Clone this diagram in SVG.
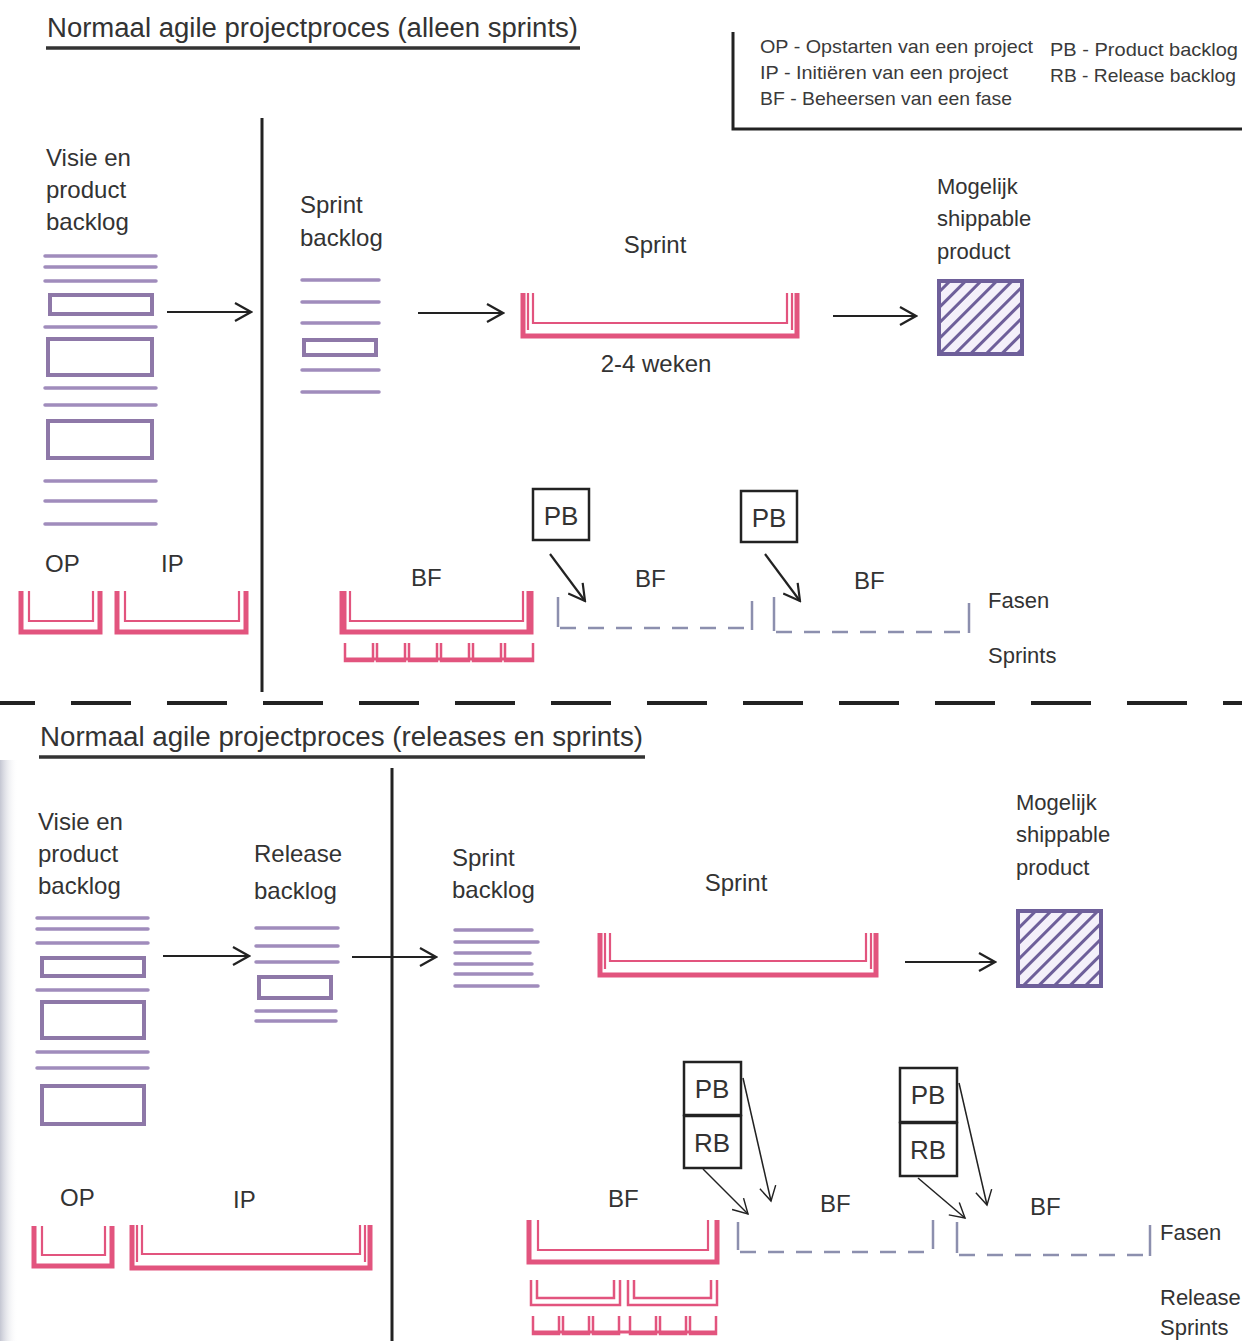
<svg xmlns="http://www.w3.org/2000/svg" width="1242" height="1341" viewBox="0 0 1242 1341">
<defs>
<style>
text{font-family:"Liberation Sans","DejaVu Sans",sans-serif;fill:#333;}
.t24{font-size:24px;}
.t22{font-size:22px;}
.leg{font-size:19px;fill:#3a3a3a;}
.box-t{font-size:26px;text-anchor:middle;}
.mid{text-anchor:middle;}
.pl{stroke:#a08cbc;stroke-width:3.5;fill:none;stroke-linecap:round;}
.pr{stroke:#8e78a8;stroke-width:4;fill:none;}
.pk{stroke:#e2547e;stroke-width:5;fill:none;stroke-linejoin:miter;}
.pki{stroke:#e2547e;stroke-width:2.2;fill:none;}
.pks{stroke:#e2547e;stroke-width:2.5;fill:none;}
.dash{stroke:#8c8fae;stroke-width:2.5;fill:none;stroke-dasharray:16 12;}
.dv{stroke:#8c8fae;stroke-width:2.5;fill:none;}
.arr{stroke:#222;stroke-width:2.2;fill:none;marker-end:url(#ah);}
.arrt{stroke:#222;stroke-width:1.5;fill:none;marker-end:url(#ah2);}
.bx{fill:#fff;stroke:#222;stroke-width:2.5;}
.div{stroke:#222;stroke-width:3;fill:none;}
.prod{fill:url(#hatch);stroke:#6e5f9a;stroke-width:4;}
</style>
<marker id="ah" viewBox="0 0 20 20" refX="18" refY="10" markerWidth="20" markerHeight="20" markerUnits="userSpaceOnUse" orient="auto">
<path d="M2,1 L18,10 L2,19" fill="none" stroke="#222" stroke-width="2.2"/>
</marker>
<marker id="ah2" viewBox="0 0 20 20" refX="18" refY="10" markerWidth="18" markerHeight="18" markerUnits="userSpaceOnUse" orient="auto">
<path d="M2,1 L18,10 L2,19" fill="none" stroke="#222" stroke-width="1.6"/>
</marker>
<pattern id="hatch" patternUnits="userSpaceOnUse" width="11" height="11" patternTransform="rotate(45)">
<rect width="11" height="11" fill="#f4f0fa"/>
<rect x="0" y="0" width="3" height="11" fill="#6e5f9a"/>
</pattern>
<linearGradient id="edge" x1="0" y1="0" x2="1" y2="0">
<stop offset="0" stop-color="#c4c6d2"/>
<stop offset="1" stop-color="#ffffff" stop-opacity="0"/>
</linearGradient>
</defs>
<rect width="1242" height="1341" fill="#fff"/>
<rect x="0" y="760" width="18" height="581" fill="url(#edge)"/>

<!-- ===== TOP SECTION ===== -->
<g id="title1">
<text x="47" y="37" font-size="27" textLength="531" lengthAdjust="spacingAndGlyphs">Normaal agile projectproces (alleen sprints)</text>
<line x1="46" y1="48" x2="580" y2="48" stroke="#333" stroke-width="3.5"/>
</g>

<g id="legend">
<path d="M733,32 V129 H1242" fill="none" stroke="#222" stroke-width="3"/>
<text class="leg" x="760" y="53" textLength="273" lengthAdjust="spacingAndGlyphs">OP - Opstarten van een project</text>
<text class="leg" x="760" y="79" textLength="248" lengthAdjust="spacingAndGlyphs">IP - Initiëren van een project</text>
<text class="leg" x="760" y="105" textLength="252" lengthAdjust="spacingAndGlyphs">BF - Beheersen van een fase</text>
<text class="leg" x="1050" y="56" textLength="188" lengthAdjust="spacingAndGlyphs">PB - Product backlog</text>
<text class="leg" x="1050" y="82" textLength="186" lengthAdjust="spacingAndGlyphs">RB - Release backlog</text>
</g>

<line id="divider1" class="div" x1="262" y1="118" x2="262" y2="692"/>

<g id="product-backlog-1">
<text class="t24" x="46" y="166">Visie en</text>
<text class="t24" x="46" y="198">product</text>
<text class="t24" x="46" y="230">backlog</text>
<line class="pl" x1="45" y1="256" x2="156" y2="256"/>
<line class="pl" x1="45" y1="267" x2="156" y2="267"/>
<line class="pl" x1="45" y1="281" x2="156" y2="281"/>
<rect class="pr" x="50" y="295" width="102" height="19"/>
<line class="pl" x1="45" y1="327" x2="156" y2="327"/>
<rect class="pr" x="48" y="339" width="104" height="36"/>
<line class="pl" x1="45" y1="388" x2="156" y2="388"/>
<line class="pl" x1="45" y1="405" x2="156" y2="405"/>
<rect class="pr" x="48" y="421" width="104" height="37"/>
<line class="pl" x1="45" y1="481" x2="156" y2="481"/>
<line class="pl" x1="45" y1="501" x2="156" y2="501"/>
<line class="pl" x1="45" y1="524" x2="156" y2="524"/>
</g>

<g id="sprint-backlog-1">
<text class="t24" x="300" y="213">Sprint</text>
<text class="t24" x="300" y="246">backlog</text>
<line class="pl" x1="302" y1="280" x2="379" y2="280"/>
<line class="pl" x1="302" y1="302" x2="379" y2="302"/>
<line class="pl" x1="302" y1="323" x2="379" y2="323"/>
<rect class="pr" x="304" y="340" width="72" height="15" stroke-width="3"/>
<line class="pl" x1="302" y1="370" x2="379" y2="370"/>
<line class="pl" x1="302" y1="392" x2="379" y2="392"/>
</g>

<g id="sprint-1">
<text class="t24 mid" x="655" y="253">Sprint</text>
<path class="pk" d="M523,293 V336 H797 V293" stroke-width="6"/>
<path class="pki" d="M533,293 V323 H787 V293" stroke-width="3"/>
<path class="pki" d="M528,293 V330 M792,293 V330"/>
<text class="t24 mid" x="656" y="372">2-4 weken</text>
</g>

<g id="product-1">
<text class="t22" x="937" y="194">Mogelijk</text>
<text class="t22" x="937" y="226">shippable</text>
<text class="t22" x="937" y="259">product</text>
<rect class="prod" x="939" y="281" width="83" height="73"/>
</g>

<g id="op-ip-1">
<text class="t24" x="45" y="572">OP</text>
<text class="t24" x="161" y="572">IP</text>
<path class="pk" d="M21,591 V632 H100 V591"/>
<path class="pki" d="M29,591 V621 H93 V591"/>
<path class="pk" d="M117,591 V632 H246 V591"/>
<path class="pki" d="M125,591 V621 H239 V591"/>
</g>

<g id="bf-1">
<text class="t24" x="411" y="586">BF</text>
<path class="pk" d="M342,591 V632 H531 V591"/>
<path class="pki" d="M350,591 V621 H523 V591"/>
<path class="pk" d="M344,591 V630 M529,591 V630" stroke-width="3"/>
<path class="pks" d="M345,643 V661 H373 V643"/>
<path class="pks" d="M377,643 V661 H405 V643"/>
<path class="pks" d="M409,643 V661 H437 V643"/>
<path class="pks" d="M441,643 V661 H469 V643"/>
<path class="pks" d="M473,643 V661 H501 V643"/>
<path class="pks" d="M505,643 V661 H533 V643"/>
<line x1="345" y1="659" x2="533" y2="659" stroke="#e2547e" stroke-width="3"/>
</g>

<g id="pb-1">
<rect class="bx" x="533" y="489" width="56" height="51"/>
<text class="box-t" x="561" y="525">PB</text>
</g>
<g id="pb-2">
<rect class="bx" x="741" y="491" width="56" height="51"/>
<text class="box-t" x="769" y="527">PB</text>
</g>

<g id="bf-2">
<text class="t24" x="635" y="587">BF</text>
<path class="dv" d="M558,597 V627"/>
<path class="dash" d="M560,628 H750"/>
<path class="dv" d="M752,601 V630"/>
</g>
<g id="bf-3">
<text class="t24" x="854" y="589">BF</text>
<path class="dv" d="M774,597 V631"/>
<path class="dash" d="M776,632 H967"/>
<path class="dv" d="M969,603 V633"/>
</g>

<g id="labels-1">
<text class="t22" x="988" y="608">Fasen</text>
<text class="t22" x="988" y="663">Sprints</text>
</g>

<!-- section divider -->
<line id="section-divider" x1="-25" y1="703" x2="1242" y2="703" stroke="#222" stroke-width="4" stroke-dasharray="60 36"/>

<!-- ===== BOTTOM SECTION ===== -->
<g id="title2">
<text x="40" y="746" font-size="27" textLength="603" lengthAdjust="spacingAndGlyphs">Normaal agile projectproces (releases en sprints)</text>
<line x1="39" y1="757" x2="645" y2="757" stroke="#333" stroke-width="3.5"/>
</g>

<line id="divider2" class="div" x1="392" y1="768" x2="392" y2="1341"/>

<g id="product-backlog-2">
<text class="t24" x="38" y="830">Visie en</text>
<text class="t24" x="38" y="862">product</text>
<text class="t24" x="38" y="894">backlog</text>
<line class="pl" x1="37" y1="918" x2="148" y2="918"/>
<line class="pl" x1="37" y1="929" x2="148" y2="929"/>
<line class="pl" x1="37" y1="943" x2="148" y2="943"/>
<rect class="pr" x="42" y="958" width="102" height="18"/>
<line class="pl" x1="37" y1="990" x2="148" y2="990"/>
<rect class="pr" x="42" y="1002" width="102" height="36"/>
<line class="pl" x1="37" y1="1052" x2="148" y2="1052"/>
<line class="pl" x1="37" y1="1068" x2="148" y2="1068"/>
<rect class="pr" x="42" y="1086" width="102" height="38"/>
</g>

<g id="release-backlog-2">
<text class="t24" x="254" y="862">Release</text>
<text class="t24" x="254" y="899">backlog</text>
<line class="pl" x1="256" y1="928" x2="338" y2="928"/>
<line class="pl" x1="256" y1="946" x2="338" y2="946"/>
<line class="pl" x1="256" y1="962" x2="338" y2="962"/>
<rect class="pr" x="259" y="977" width="72" height="21"/>
<line class="pl" x1="256" y1="1011" x2="336" y2="1011"/>
<line class="pl" x1="256" y1="1021" x2="336" y2="1021"/>
</g>

<g id="sprint-backlog-2">
<text class="t24" x="452" y="866">Sprint</text>
<text class="t24" x="452" y="898">backlog</text>
<line class="pl" x1="455" y1="930" x2="532" y2="930" stroke-width="2.5"/>
<line class="pl" x1="455" y1="942" x2="538" y2="942" stroke-width="2.5"/>
<line class="pl" x1="455" y1="953" x2="530" y2="953" stroke-width="2.5"/>
<line class="pl" x1="455" y1="964" x2="532" y2="964" stroke-width="2.5"/>
<line class="pl" x1="455" y1="974" x2="532" y2="974" stroke-width="2.5"/>
<line class="pl" x1="455" y1="986" x2="538" y2="986" stroke-width="2.5"/>
</g>

<g id="sprint-2">
<text class="t24 mid" x="736" y="891">Sprint</text>
<path class="pk" d="M600,933 V975 H876 V933" stroke-width="6"/>
<path class="pki" d="M610,933 V961 H866 V933" stroke-width="3"/>
<path class="pki" d="M605,933 V969 M871,933 V969"/>
</g>

<g id="product-2">
<text class="t22" x="1016" y="810">Mogelijk</text>
<text class="t22" x="1016" y="842">shippable</text>
<text class="t22" x="1016" y="875">product</text>
<rect class="prod" x="1018" y="911" width="83" height="75"/>
</g>

<g id="op-ip-2">
<text class="t24" x="60" y="1206">OP</text>
<text class="t24" x="233" y="1208">IP</text>
<path class="pk" d="M34,1226 V1266 H112 V1226"/>
<path class="pki" d="M42,1226 V1255 H105 V1226"/>
<path class="pk" d="M132,1225 V1268 H370 V1225" stroke-width="6"/>
<path class="pki" d="M142,1225 V1254 H360 V1225" stroke-width="3"/>
<path class="pki" d="M137,1225 V1262 M365,1225 V1262"/>
</g>

<g id="bf-4">
<text class="t24" x="608" y="1207">BF</text>
<path class="pk" d="M529,1220 V1262 H717 V1220" stroke-width="6"/>
<path class="pki" d="M538,1220 V1250 H708 V1220" stroke-width="3"/>
<path class="pks" d="M531,1280 V1305 H620 V1280"/>
<path class="pks" d="M537,1280 V1298 H614 V1280" stroke-width="1.5"/>
<path class="pks" d="M628,1280 V1305 H717 V1280"/>
<path class="pks" d="M634,1280 V1298 H711 V1280" stroke-width="1.5"/>
<path class="pks" d="M533,1316 V1334 H559 V1316"/>
<path class="pks" d="M563,1316 V1334 H589 V1316"/>
<path class="pks" d="M593,1316 V1334 H619 V1316"/>
<path class="pks" d="M630,1316 V1334 H656 V1316"/>
<path class="pks" d="M660,1316 V1334 H686 V1316"/>
<path class="pks" d="M690,1316 V1334 H716 V1316"/>
<line x1="533" y1="1332" x2="716" y2="1332" stroke="#e2547e" stroke-width="3"/>
</g>

<g id="pb-rb-1">
<rect class="bx" x="684" y="1062" width="57" height="53"/>
<text class="box-t" x="712" y="1098">PB</text>
<rect class="bx" x="684" y="1116" width="57" height="52"/>
<text class="box-t" x="712" y="1152">RB</text>
</g>
<g id="pb-rb-2">
<rect class="bx" x="900" y="1068" width="57" height="54"/>
<text class="box-t" x="928" y="1104">PB</text>
<rect class="bx" x="900" y="1123" width="57" height="53"/>
<text class="box-t" x="928" y="1159">RB</text>
</g>

<g id="bf-5">
<text class="t24" x="820" y="1212">BF</text>
<path class="dv" d="M738,1222 V1250"/>
<path class="dash" d="M740,1252 H931"/>
<path class="dv" d="M933,1220 V1249"/>
</g>
<g id="bf-6">
<text class="t24" x="1030" y="1215">BF</text>
<path class="dv" d="M957,1222 V1253"/>
<path class="dash" d="M959,1255 H1148"/>
<path class="dv" d="M1150,1225 V1256"/>
</g>

<g id="labels-2">
<text class="t22" x="1160" y="1240">Fasen</text>
<text class="t22" x="1160" y="1305">Release</text>
<text class="t22" x="1160" y="1335">Sprints</text>
</g>

<!-- ===== CONNECTORS ===== -->
<g id="connectors">
<line class="arr" x1="167" y1="312" x2="251" y2="312"/>
<line class="arr" x1="418" y1="313" x2="503" y2="313"/>
<line class="arr" x1="833" y1="316" x2="916" y2="316"/>
<line class="arr" x1="550" y1="554" x2="585" y2="601"/>
<line class="arr" x1="765" y1="554" x2="800" y2="601"/>
<line class="arr" x1="163" y1="956" x2="249" y2="956"/>
<line class="arr" x1="352" y1="957" x2="436" y2="957"/>
<line class="arr" x1="905" y1="962" x2="995" y2="962"/>
<line class="arrt" x1="703" y1="1169" x2="748" y2="1214"/>
<line class="arrt" x1="743" y1="1078" x2="771" y2="1201"/>
<line class="arrt" x1="918" y1="1178" x2="965" y2="1218"/>
<line class="arrt" x1="959" y1="1083" x2="987" y2="1205"/>
</g>
</svg>
